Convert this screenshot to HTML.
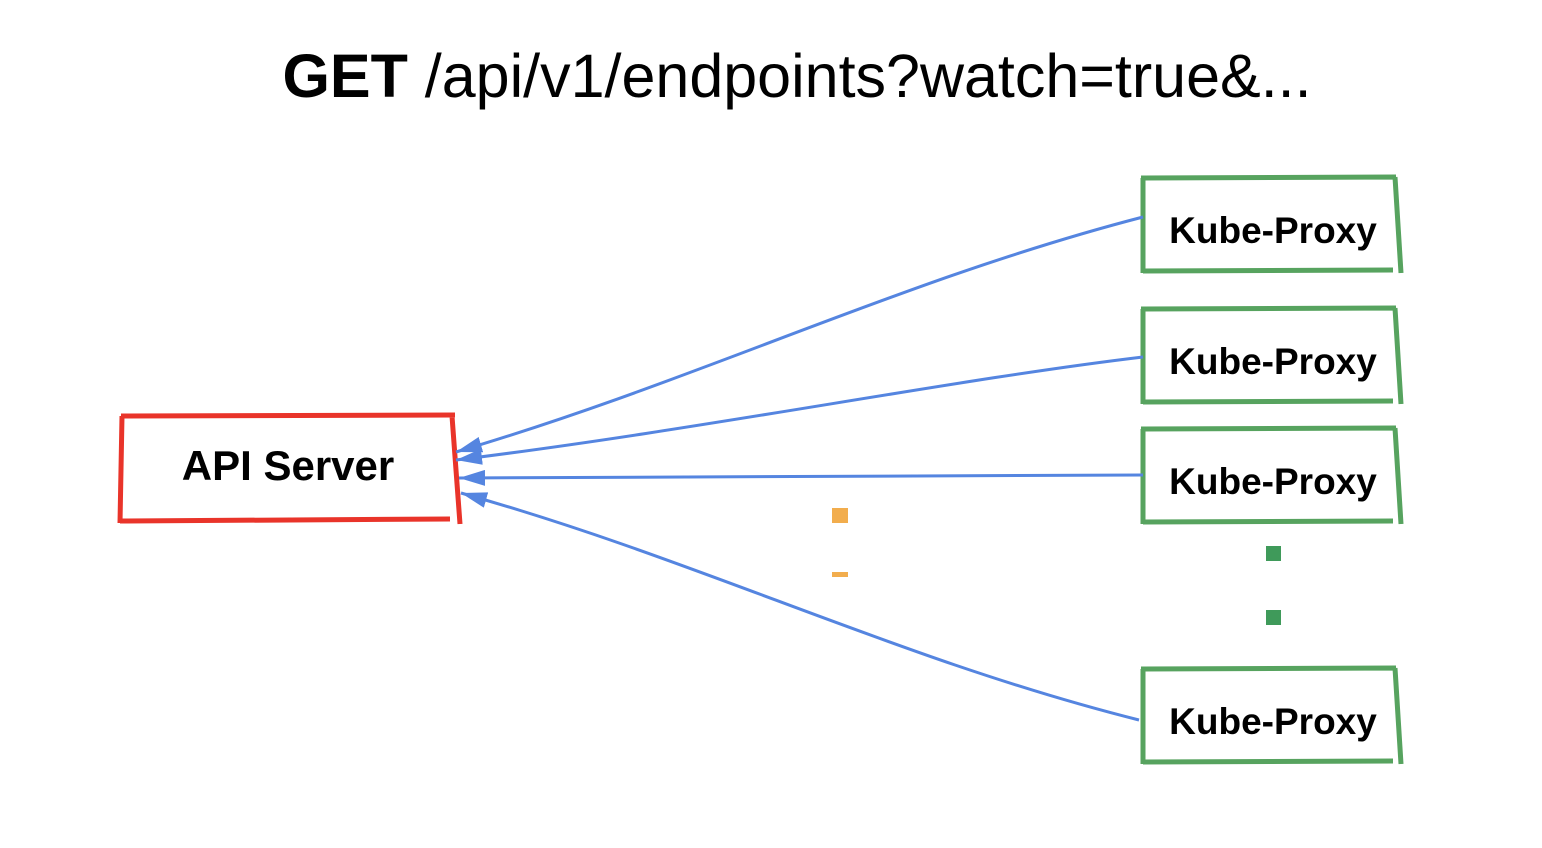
<!DOCTYPE html>
<html><head><style>
body{margin:0;background:#fff;}
svg{display:block;}
</style></head><body>
<svg width="1542" height="848" viewBox="0 0 1542 848" xmlns="http://www.w3.org/2000/svg">
<defs>
<marker id="ah" markerWidth="26" markerHeight="16" refX="26" refY="8" orient="auto" markerUnits="userSpaceOnUse" viewBox="0 0 26 16">
<path d="M0,0 L26,8 L0,16 z" fill="#5585e0"/>
</marker>
<g id="kp">
<path d="M1143,178 L1143,273 M1141,178 L1396,177 M1395,177 L1401,273 M1143,271 L1393,270" stroke="#57a35f" stroke-width="5" fill="none"/>
<text x="1273" y="243" text-anchor="middle" font-family="Liberation Sans, sans-serif" font-weight="bold" font-size="37" fill="#000">Kube-Proxy</text>
</g>
</defs>
<text x="797" y="97" text-anchor="middle" font-family="Liberation Sans, sans-serif" font-size="61" fill="#000"><tspan font-weight="bold">GET</tspan> /api/v1/endpoints?watch=true&amp;...</text>

<path d="M122,416 L120,523 M121,416 L455,415 M452,416 L460,524 M120,521 L450,519" stroke="#e9342a" stroke-width="5" fill="none"/>
<text x="288" y="480" text-anchor="middle" font-family="Liberation Sans, sans-serif" font-weight="bold" font-size="42" fill="#000">API Server</text>

<use href="#kp"/>
<use href="#kp" y="131"/>
<use href="#kp" y="251"/>
<use href="#kp" y="491"/>

<g stroke="#5585e0" stroke-width="3" fill="none">
<path d="M1143,217 C900,280 700,380 456,452" marker-end="url(#ah)"/>
<path d="M1143,357 C950,380 700,430 456,460" marker-end="url(#ah)"/>
<path d="M1143,475 C900,476 700,477 459,478" marker-end="url(#ah)"/>
<path d="M1139,720 C900,660 700,560 461,493" marker-end="url(#ah)"/>
</g>

<rect x="832" y="508" width="16" height="15" fill="#f2ad4d"/>
<rect x="832" y="572" width="16" height="5" fill="#f2ad4d"/>
<rect x="1266" y="546" width="15" height="15" fill="#3f9a5a"/>
<rect x="1266" y="610" width="15" height="15" fill="#3f9a5a"/>
</svg>
</body></html>
